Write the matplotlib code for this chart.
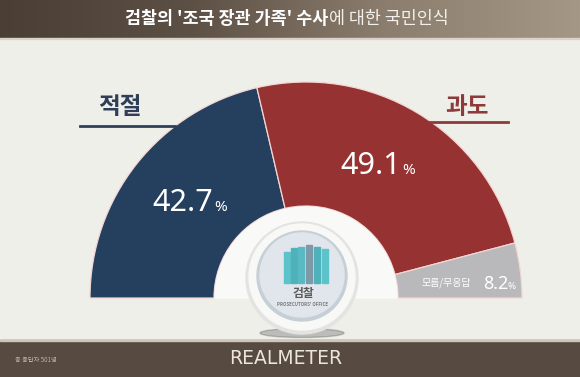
import numpy as np
import matplotlib
matplotlib.use("Agg")
import matplotlib.pyplot as plt
from matplotlib.patches import Circle, Rectangle, Wedge, Ellipse
from matplotlib.colors import LinearSegmentedColormap

plt.rcParams['font.family'] = ['Noto Sans CJK KR', 'DejaVu Sans']

# ---- data ----
title_bold = "검찰의 '조국 장관 가족' 수사"
title_rest = "에 대한 국민인식"
categories = ["적절", "과도", "모름/무응답"]
values = [42.7, 49.1, 8.2]
colors = ["#253f5f", "#963332", "#b9b9bb"]
footer_note = "총 응답자 501명"
brand = "REALMETER"

W, H = 580, 377
fig = plt.figure(figsize=(W / 100, H / 100), dpi=100)
fig.patch.set_facecolor("#efefea")
ax = fig.add_axes([0, 0, 1, 1])
ax.set_facecolor("#efefea")

# ---- header gradient ----
grad = np.linspace(0, 1, 256).reshape(1, -1)
hcmap = LinearSegmentedColormap.from_list("h", ["#4a3e35", "#5d5045", "#8c7e6e", "#a49785"])
ax.imshow(grad, extent=[0, W, H - 38, H], cmap=hcmap, aspect="auto", zorder=1)
ax.add_patch(Rectangle((0, H - 39), W, 1.2, color="#d8d2c8", zorder=2))

# ---- footer ----
ax.add_patch(Rectangle((0, 0), W, 37, color="#574a40", zorder=1))
ax.add_patch(Rectangle((0, 36), W, 1.5, color="#cfc6bb", zorder=2))

# ---- half donut ----
cx, cy = 306, H - 298
R_out, R_in = 216, 92
ax.pie(values + [sum(values)], colors=colors + ["none"], startangle=180,
       counterclock=False, center=(cx, cy), radius=R_out, frame=True,
       wedgeprops=dict(width=R_out - R_in, edgecolor="#f3d6d4", linewidth=0.9),
       normalize=True)
ax.patches[-1].set_edgecolor("none")

# ---- center hole & logo ----
ax.add_patch(Wedge((cx, cy), R_in - 1, 0, 180, color="#f9f9f8", zorder=3))
ax.add_patch(Ellipse((cx - 4, H - 333), 84, 9, color="#5e5e5e", alpha=0.35, zorder=3.2))
ax.add_patch(Circle((cx - 4, cy + 20), 56, color="#e3e3e1", zorder=3.5))
ax.add_patch(Circle((cx - 4, cy + 21), 53, color="#f8f8f7", zorder=4))
ax.add_patch(Circle((cx - 4, cy + 22), 45, color="#c6cfd6", zorder=4.2))
ax.add_patch(Circle((cx - 4, cy + 23), 42, color="#e0e6eb", zorder=4.3))
bar_x = [287, 294, 301, 308.5, 317, 325]
bar_h = [31, 35, 36, 38, 36, 34]
bar_c = ["#5cc3ca", "#4fb2bb", "#58bbc3", "#7e9aa8", "#4fb2bb", "#5dc3ca"]
for bx, bh, bc in zip(bar_x, bar_h, bar_c):
    ax.add_patch(Rectangle((bx - 3, H - 283), 6, bh, color=bc, zorder=5))
ax.text(cx - 3, H - 293, "검찰", ha="center", va="center", fontsize=8.5,
        color="#5a5a5a", fontweight="bold", zorder=6)
ax.text(cx - 3, H - 304, "PROSECUTORS' OFFICE", ha="center", va="center",
        fontsize=3.2, color="#7a7a7a", fontweight="bold", zorder=6)

# ---- labels ----
ax.text(120, H - 107, categories[0], ha="center", va="center", fontsize=17,
        color="#2e3f57", fontweight="bold", zorder=6)
ax.plot([80, 175], [H - 126, H - 126], color="#2e3f57", lw=2, zorder=2)
ax.text(467, H - 107, categories[1], ha="center", va="center", fontsize=17,
        color="#8e3a3a", fontweight="bold", zorder=6)
ax.plot([430, 508], [H - 122, H - 122], color="#8e3a3a", lw=2, zorder=2)

num_font = ["Noto Sans", "DejaVu Sans"]
ax.text(152, H - 211, f"{values[0]}", ha="left", va="baseline", fontsize=22,
        color="white", zorder=6, family=num_font)
ax.text(214, H - 211, "%", ha="left", va="baseline", fontsize=11,
        color="white", zorder=6, family=num_font)
ax.text(340, H - 174, f"{values[1]}", ha="left", va="baseline", fontsize=22,
        color="white", zorder=6, family=num_font)
ax.text(402, H - 174, "%", ha="left", va="baseline", fontsize=11,
        color="white", zorder=6, family=num_font)
ax.text(446, H - 283, categories[2], ha="center", va="center", fontsize=7.2,
        color="white", zorder=6)
ax.text(483, H - 289, f"{values[2]}", ha="left", va="baseline", fontsize=13,
        color="white", zorder=6, family=num_font)
ax.text(508, H - 289, "%", ha="left", va="baseline", fontsize=7,
        color="white", zorder=6, family=num_font)

# ---- title ----
ax.text(328, H - 19, title_bold, ha="right", va="center", fontsize=12.5,
        color="white", fontweight="bold", zorder=6)
ax.text(329, H - 19, title_rest, ha="left", va="center", fontsize=12.5,
        color="#f4f1ec", zorder=6)

# ---- footer text ----
ax.text(15, 17, footer_note, ha="left", va="center", fontsize=4.5,
        color="#bdb3a8", zorder=6)
ax.text(286, 18, brand, ha="center", va="center", fontsize=13.5,
        color="#ebe6de", family=["Liberation Sans Narrow", "DejaVu Sans"], zorder=6)

ax.set_xlim(0, W)
ax.set_ylim(0, H)
ax.set_aspect("auto")
ax.axis("off")
fig.savefig("out.png", dpi=100, facecolor=fig.get_facecolor())
